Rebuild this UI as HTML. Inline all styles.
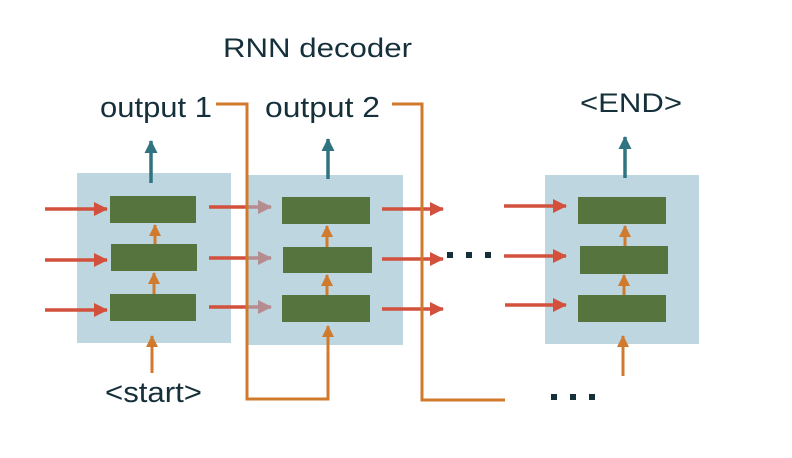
<!DOCTYPE html>
<html><head><meta charset="utf-8"><style>
html,body{margin:0;padding:0;background:#fff;width:792px;height:458px;overflow:hidden}
svg{display:block}
text{font-family:"Liberation Sans",Arial,sans-serif;fill:#15303a}
</style></head><body>
<svg width="792" height="458" viewBox="0 0 792 458" xmlns="http://www.w3.org/2000/svg">
<defs>
<marker id="r" markerWidth="14" markerHeight="14" refX="13" refY="7" orient="auto" markerUnits="userSpaceOnUse" viewBox="0 0 14 14"><path d="M0,0 L14,7 L0,14 z" fill="#d2503c"/></marker>
<marker id="p" markerWidth="14" markerHeight="14" refX="13" refY="7" orient="auto" markerUnits="userSpaceOnUse" viewBox="0 0 14 14"><path d="M0,0 L14,7 L0,14 z" fill="#b58c90"/></marker>
<marker id="o" markerWidth="12" markerHeight="12" refX="11" refY="6" orient="auto" markerUnits="userSpaceOnUse" viewBox="0 0 12 12"><path d="M0,0 L12,6 L0,12 z" fill="#d07a2e"/></marker>
<marker id="t" markerWidth="13" markerHeight="13" refX="12" refY="6.5" orient="auto" markerUnits="userSpaceOnUse" viewBox="0 0 13 13"><path d="M0,0 L13,6.5 L0,13 z" fill="#2f7480"/></marker>
</defs>
<text x="223" y="57" font-size="27" textLength="189" lengthAdjust="spacingAndGlyphs">RNN decoder</text>
<text x="100" y="117" font-size="29" textLength="112" lengthAdjust="spacingAndGlyphs">output 1</text>
<text x="265" y="117" font-size="29" textLength="115" lengthAdjust="spacingAndGlyphs">output 2</text>
<text x="580" y="112" font-size="27" textLength="102" lengthAdjust="spacingAndGlyphs">&lt;END&gt;</text>
<text x="105" y="402" font-size="29" textLength="97" lengthAdjust="spacingAndGlyphs">&lt;start&gt;</text>

<rect x="77" y="173" width="154" height="170" fill="#bdd6e0"/>
<rect x="246" y="175" width="157" height="170" fill="#bdd6e0"/>
<rect x="545" y="175" width="154" height="169" fill="#bdd6e0"/>

<g fill="#56743d">
<rect x="110" y="196" width="86" height="27"/><rect x="111" y="244" width="86" height="27"/><rect x="110" y="294" width="86" height="27"/>
<rect x="282" y="197" width="88" height="27"/><rect x="283" y="247" width="89" height="26"/><rect x="282" y="295" width="88" height="27"/>
<rect x="578" y="197" width="88" height="27"/><rect x="580" y="246" width="88" height="28"/><rect x="578" y="295" width="88" height="27"/>
</g>

<g stroke="#d2503c" stroke-width="3.5" fill="none">
<line x1="45" y1="209" x2="107" y2="209" marker-end="url(#r)"/>
<line x1="45" y1="260" x2="107" y2="260" marker-end="url(#r)"/>
<line x1="45" y1="310" x2="107" y2="310" marker-end="url(#r)"/>
<line x1="209" y1="207" x2="246" y2="207"/>
<line x1="209" y1="258" x2="246" y2="258"/>
<line x1="209" y1="307" x2="246" y2="307"/>
<line x1="382" y1="209" x2="443" y2="209" marker-end="url(#r)"/>
<line x1="382" y1="259" x2="443" y2="259" marker-end="url(#r)"/>
<line x1="382" y1="309" x2="443" y2="309" marker-end="url(#r)"/>
<line x1="504" y1="206" x2="566" y2="206" marker-end="url(#r)"/>
<line x1="504" y1="256" x2="566" y2="256" marker-end="url(#r)"/>
<line x1="505" y1="305" x2="566" y2="305" marker-end="url(#r)"/>
</g>
<g stroke="#b58c90" stroke-width="3.5">
<line x1="246" y1="207" x2="271" y2="207" marker-end="url(#p)"/>
<line x1="246" y1="258" x2="271" y2="258" marker-end="url(#p)"/>
<line x1="246" y1="307" x2="271" y2="307" marker-end="url(#p)"/>
</g>

<g stroke="#d07a2e" stroke-width="3" fill="none">
<polyline points="216,104 247,104 247,399 328,399 328,326" marker-end="url(#o)"/>
<polyline points="392,104 422,104 422,400 505,400"/>
<line x1="152" y1="373" x2="152" y2="336" marker-end="url(#o)"/>
<line x1="623" y1="376" x2="623" y2="336" marker-end="url(#o)"/>
<line x1="155" y1="244" x2="155" y2="225" marker-end="url(#o)"/>
<line x1="154" y1="294" x2="154" y2="273" marker-end="url(#o)"/>
<line x1="327" y1="247" x2="327" y2="226" marker-end="url(#o)"/>
<line x1="327" y1="295" x2="327" y2="275" marker-end="url(#o)"/>
<line x1="625" y1="246" x2="625" y2="226" marker-end="url(#o)"/>
<line x1="624" y1="295" x2="624" y2="275" marker-end="url(#o)"/>
</g>

<g stroke="#2f7480" stroke-width="3.5">
<line x1="151" y1="183" x2="151" y2="141" marker-end="url(#t)"/>
<line x1="328" y1="179" x2="328" y2="139" marker-end="url(#t)"/>
<line x1="625" y1="178" x2="625" y2="137" marker-end="url(#t)"/>
</g>

<g fill="#15303a">
<rect x="447" y="252" width="6" height="6"/><rect x="466" y="252" width="6" height="6"/><rect x="485" y="252" width="6" height="6"/>
<rect x="551" y="394" width="6" height="6"/><rect x="570" y="394" width="6" height="6"/><rect x="589" y="394" width="6" height="6"/>
</g>
</svg>
</body></html>
